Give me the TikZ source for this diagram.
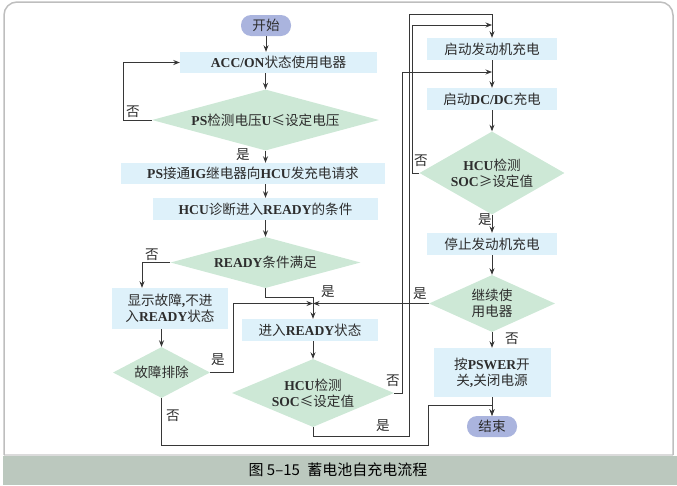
\documentclass[tikz,border=0pt]{standalone}
\usepackage{fontspec}
\setmainfont{Noto Sans CJK SC}
\newfontfamily\lat{Liberation Serif}
\usetikzlibrary{shapes.geometric,arrows.meta}

\definecolor{termblue}{RGB}{170,180,222}
\definecolor{procblue}{RGB}{222,241,250}
\definecolor{decgreen}{RGB}{205,232,214}
\definecolor{inkgray}{RGB}{45,45,45}
\definecolor{linegray}{RGB}{55,55,55}
\definecolor{framegray}{RGB}{190,190,190}
\definecolor{bandgreen}{RGB}{187,200,190}

\newcommand{\en}[1]{{\lat\bfseries #1}}

\tikzset{
  boxfont/.style={text=inkgray, font=\fontsize{13.6}{16}\selectfont},
  term/.style={rectangle, rounded corners=10pt, fill=termblue, minimum width=50pt,
    minimum height=21pt, inner sep=0pt, boxfont},
  proc/.style={rectangle, fill=procblue, minimum height=22pt, inner sep=0pt,
    align=center, boxfont},
  decide/.style={diamond, fill=decgreen, inner sep=0pt, align=center, boxfont},
  link/.style={draw=linegray, line width=0.8pt},
  flow/.style={link, -{Stealth[length=6.5pt,width=5pt]}},
  yesno/.style={inner sep=0pt, boxfont}
}

\begin{document}
\begin{tikzpicture}[x=1pt, y=-1pt]
    \useasboundingbox (0,0) rectangle (677,485);

    % Frame and caption band
    \fill[bandgreen] (3,456) rectangle (677,485);
    \draw[framegray!55, line width=1.5pt] (4,455) -- (673,455);
    \draw[framegray, line width=1.5pt, rounded corners=13pt] (4,455) -- (4,2) -- (673,2) -- (673,455);
    \node (caption) at (338,470) [font=\fontsize{15}{18}\selectfont] {图 5–15\enspace 蓄电池自充电流程};

    % Left column
    \node (start) at (266,25.5) [term] {开始};
    \node (acc) at (278.5,62.5) [proc, minimum width=197pt, minimum height=21pt] {\en{ACC/ON}状态使用电器};
    \node (ps) at (265.5,120) [decide, minimum width=227pt, minimum height=61pt, aspect=3.7] {\en{PS}检测电压\en{U}≤设定电压};
    \node (req) at (253,173.5) [proc, minimum width=264pt, minimum height=21pt] {\en{PS}接通\en{IG}继电器向\en{HCU}发充电请求};
    \node (diag) at (265.5,209) [proc, minimum width=225pt] {\en{HCU}诊断进入\en{READY}的条件};
    \node (ready) at (265.5,262.5) [decide, minimum width=190pt, minimum height=51pt, aspect=3.7] {\en{READY}条件满足};
    \node (fault) at (170,308.5) [proc, minimum width=116pt, minimum height=41pt] {显示故障\en{,}不进\\入\en{READY}状态};
    \node (clear) at (161.5,372.5) [decide, minimum width=97pt, minimum height=51pt, aspect=1.9] {故障排除};
    \node (enter) at (310,330) [proc, minimum width=136pt] {进入\en{READY}状态};
    \node (socle) at (313,393) [decide, minimum width=162pt, minimum height=68pt, aspect=2.4] {\en{HCU}检测\\\en{SOC}≤设定值};

    % Right column
    \node (eng) at (492,49) [proc, minimum width=130pt] {启动发动机充电};
    \node (dcdc) at (492,99) [proc, minimum width=130pt] {启动\en{DC/DC}充电};
    \node (socge) at (492,173) [decide, minimum width=145pt, minimum height=83pt, aspect=1.75] {\en{HCU}检测\\\en{SOC}≥设定值};
    \node (stop) at (492,244) [proc, minimum width=130pt] {停止发动机充电};
    \node (cont) at (492,303.5) [decide, minimum width=126pt, minimum height=57pt, aspect=2.2] {继续使\\用电器};
    \node (off) at (492,372.5) [proc, minimum width=117pt, minimum height=49pt] {按\en{PSWER}开\\关\en{,}关闭电源};
    \node (end) at (492,426.5) [term] {结束};

    % Meeting points
    \coordinate (join) at (313,303.5);
    \coordinate (in1) at (492,25);
    \coordinate (in2) at (492,72);

    % Main flow, left
    \draw[flow] (start.south) -- (start.south |- acc.north);
    \draw[flow] (ps.south |- acc.south) -- (ps.north);
    \draw[flow] (ps.south) -- (ps.south |- req.north);
    \draw[flow] (ps.south |- req.south) -- (diag.north);
    \draw[flow] (diag.south) -- (ready.north);
    \draw[flow] (ps.west) -- (123,120) |- (acc.west);
    \draw[flow] (ready.west) -| ([xshift=-28pt]fault.north);
    \draw[flow] (clear.north |- fault.south) -- (clear.north);
    \draw[link] (ready.south) -- ++(0,9) -| (join);
    \draw[flow] (clear.east) -| (233,303.5) -- (join);
    \draw[flow] (cont.west) -- (join);
    \draw[flow] (join) -- (join |- enter.north);
    \draw[flow] (join |- enter.south) -- (socle.north);

    % Main flow, right
    \draw[flow] (eng) -- (dcdc);
    \draw[flow] (dcdc) -- (socge);
    \draw[flow] (socge) -- (stop);
    \draw[flow] (stop) -- (cont);
    \draw[flow] (cont) -- (off);
    \draw[flow] (off) -- (end);

    % Loops back
    \draw[flow] (socle.east) -- (402,393) |- (in2);
    \draw[flow] (socle.south) |- (409,436) |- (492,14) -- (eng.north);
    \draw[flow] (socge.west) -- (412,173) |- (in1);
    \draw[flow] (clear.south) |- (428,445) |- (492,405) -- (end.north);

    % Yes / no labels
    \node (no1) at (133,112) [yesno] {否};
    \node (yes1) at (243,155) [yesno] {是};
    \node (no2) at (152,255) [yesno] {否};
    \node (yes2) at (328,292) [yesno] {是};
    \node (yes3) at (218,360) [yesno] {是};
    \node (no3) at (173,416) [yesno] {否};
    \node (no4) at (393,381) [yesno] {否};
    \node (yes4) at (383,426) [yesno] {是};
    \node (no5) at (421,161) [yesno] {否};
    \node (yes5) at (485,220) [yesno] {是};
    \node (yes6) at (420,294) [yesno] {是};
    \node (no6) at (512,339) [yesno] {否};
\end{tikzpicture}
\end{document}
